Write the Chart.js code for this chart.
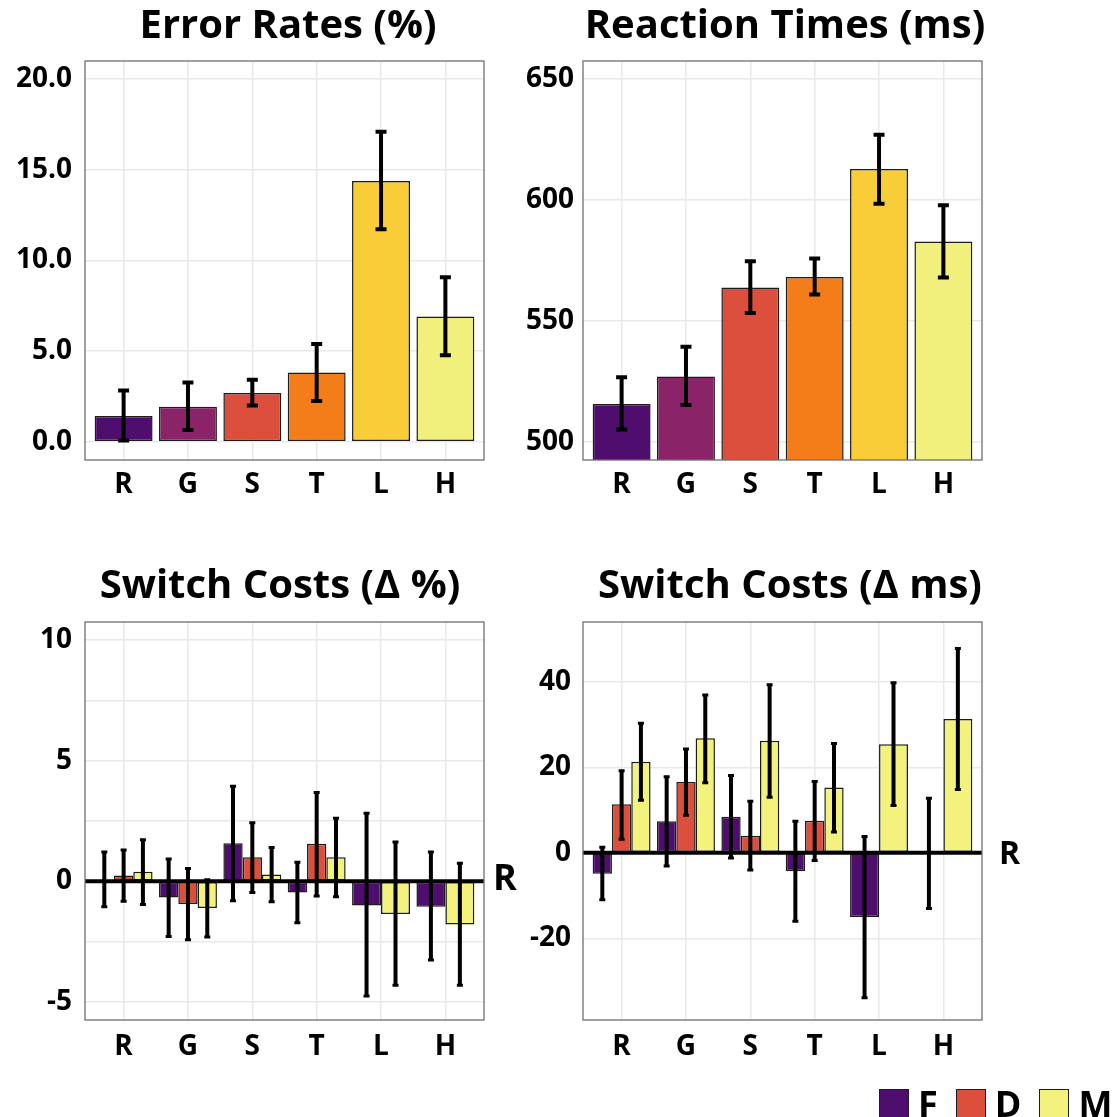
<!DOCTYPE html>
<html>
<head>
<meta charset="utf-8">
<script src="https://cdn.jsdelivr.net/npm/chart.js@4.4.1/dist/chart.umd.min.js"></script>
<style>
  html, body { margin: 0; padding: 0; background: #fff; }
  body { width: 1113px; height: 1117px; position: relative; overflow: hidden; font-family: 'Open Sans', sans-serif; }
  canvas { position: absolute; }
  #legend { position: absolute; left: 879px; top: 1086px; display: flex; align-items: center; }
  #legend .item { display: flex; align-items: center; margin-right: 18px; }
  #legend .swatch { width: 30px; height: 30px; box-sizing: border-box; border: 1.5px solid #1c1c1c; }
  #legend .name { margin-left: 9px; font-weight: 700; font-size: 36px; line-height: 1; color: #000; }
</style>
</head>
<body>
<canvas id="errorRates" width="576" height="510" style="left:0px;top:0px"></canvas>
<canvas id="reactionTimes" width="570" height="510" style="left:500px;top:0px"></canvas>
<canvas id="switchPct" width="560" height="530" style="left:0px;top:550px"></canvas>
<canvas id="switchMs" width="580" height="530" style="left:500px;top:550px"></canvas>
<div id="legend"></div>
<script>
// ---- categories and groups ----
const categories = ['R', 'G', 'S', 'T', 'L', 'H'];
const categoryColors = ['#4f0d6e', '#8b2369', '#dd4f3d', '#f37e19', '#f8cd38', '#f1f07c'];
const seriesNames = ['F', 'D', 'M'];
const seriesColors = ['#4f0d6e', '#dd4f3d', '#f2f27c'];

// ---- error rates (%) ----
const errorRate   = [1.43, 1.93, 2.70, 3.82, 14.38, 6.91];
const errorRateLo = [0.07, 0.66, 2.00, 2.26, 11.72, 4.78];
const errorRateHi = [2.83, 3.27, 3.43, 5.40, 17.10, 9.07];
const errorRateTicks = [0, 5, 10, 15, 20];

// ---- reaction times (ms) ----
const reactionTime   = [515.7, 527.0, 563.8, 568.2, 612.8, 582.9];
const reactionTimeLo = [505.1, 515.2, 553.3, 560.9, 598.5, 568.0];
const reactionTimeHi = [526.7, 539.3, 574.7, 575.8, 627.0, 597.8];
const reactionTimeTicks = [500, 550, 600, 650];

// ---- switch costs (delta %) ----
const switchPctF   = [0.05, -0.67, 1.58, -0.46, -1.00, -1.06];
const switchPctFLo = [-1.06, -2.29, -0.81, -1.72, -4.76, -3.26];
const switchPctFHi = [1.22, 0.92, 3.94, 0.79, 2.82, 1.21];
const switchPctD   = [0.24, -0.94, 1.00, 1.56, null, null];
const switchPctDLo = [-0.83, -2.42, -0.46, -0.61, null, null];
const switchPctDHi = [1.30, 0.53, 2.43, 3.68, null, null];
const switchPctM   = [0.40, -1.11, 0.28, 1.00, -1.36, -1.79];
const switchPctMLo = [-0.96, -2.31, -0.85, -0.64, -4.31, -4.31];
const switchPctMHi = [1.72, 0.06, 1.40, 2.61, 1.63, 0.75];
const switchPctGrid = [-5, -2.5, 0, 2.5, 5, 7.5, 10];
const switchPctLabels = [-5, 0, 5, 10];

// ---- switch costs (delta ms) ----
const switchMsF   = [-4.9, 7.4, 8.45, -4.3, -15.0, -0.1];
const switchMsFLo = [-11.0, -3.1, -1.2, -16.0, -33.9, -13.0];
const switchMsFHi = [1.3, 17.8, 18.1, 7.4, 3.8, 12.8];
const switchMsD   = [11.35, 16.6, 4.0, 7.5, null, null];
const switchMsDLo = [3.2, 8.8, -4.0, -1.8, null, null];
const switchMsDHi = [19.2, 24.3, 12.05, 16.7, null, null];
const switchMsM   = [21.3, 26.8, 26.2, 15.3, 25.4, 31.3];
const switchMsMLo = [12.3, 16.4, 13.0, 4.9, 11.1, 14.8];
const switchMsMHi = [30.3, 36.9, 39.3, 25.6, 39.8, 47.8];
const switchMsTicks = [-20, 0, 20, 40];

// ---- shared styling ----
const FONT = "'Open Sans', sans-serif";
Chart.defaults.font.family = FONT;
Chart.defaults.color = '#000';
const GRID_COLOR = '#e9e9e9';
const tickFont = { family: FONT, weight: 'bold', size: 28, lineHeight: 1.2 };
const titleFont = { family: FONT, weight: 'bold', size: 40, lineHeight: 1.2 };

// whiskers drawn through the value scale at each bar's centre
const errorBarPlugin = {
  id: 'errorBars',
  afterDatasetsDraw(chart, args, opts) {
    const { ctx, chartArea: a } = chart;
    const y = chart.scales.y;
    ctx.save();
    ctx.beginPath();
    ctx.rect(a.left, a.top, a.width, a.height);
    ctx.clip();
    ctx.strokeStyle = '#000';
    ctx.lineCap = 'butt';
    chart.data.datasets.forEach((ds, i) => {
      const meta = chart.getDatasetMeta(i);
      meta.data.forEach((bar, j) => {
        const lo = ds.errLo[j], hi = ds.errHi[j];
        if (lo == null || hi == null) return;
        const yl = y.getPixelForValue(lo), yh = y.getPixelForValue(hi);
        ctx.lineWidth = opts.lineWidth;
        ctx.beginPath();
        ctx.moveTo(bar.x, yl);
        ctx.lineTo(bar.x, yh);
        ctx.stroke();
        ctx.lineWidth = opts.capThickness;
        ctx.beginPath();
        ctx.moveTo(bar.x - opts.capWidth / 2, yl);
        ctx.lineTo(bar.x + opts.capWidth / 2, yl);
        ctx.moveTo(bar.x - opts.capWidth / 2, yh);
        ctx.lineTo(bar.x + opts.capWidth / 2, yh);
        ctx.stroke();
      });
    });
    ctx.restore();
  }
};

// reference line at zero with its tag on the right
const zeroLinePlugin = {
  id: 'zeroLine',
  afterDatasetsDraw(chart, args, opts) {
    const { ctx, chartArea: a } = chart;
    const y0 = chart.scales.y.getPixelForValue(0);
    ctx.save();
    ctx.strokeStyle = '#000';
    ctx.lineWidth = 4;
    ctx.beginPath();
    ctx.moveTo(a.left, y0);
    ctx.lineTo(a.right, y0);
    ctx.stroke();
    ctx.fillStyle = '#000';
    ctx.font = `bold ${opts.size}px ${FONT}`;
    ctx.textAlign = 'left';
    ctx.textBaseline = 'middle';
    ctx.fillText(opts.text, a.right + opts.gap, y0 + opts.shift);
    ctx.restore();
  }
};

// panel outline
const framePlugin = {
  id: 'frame',
  afterDraw(chart) {
    const { ctx, chartArea: a } = chart;
    ctx.save();
    ctx.strokeStyle = '#6f6f6f';
    ctx.lineWidth = 1.3;
    ctx.strokeRect(a.left, a.top, a.width, a.height);
    ctx.restore();
  }
};

function makePanel(id, cfg) {
  const plugins = [errorBarPlugin, framePlugin];
  if (cfg.zero) plugins.push(zeroLinePlugin);
  return new Chart(document.getElementById(id), {
    type: 'bar',
    data: { datasets: cfg.datasets },
    options: {
      responsive: false,
      animation: false,
      devicePixelRatio: 1,
      layout: { padding: 0 },
      datasets: {
        bar: {
          barPercentage: cfg.barPct,
          categoryPercentage: cfg.catPct,
          borderColor: '#1c1c1c',
          borderWidth: 1.5,
          borderSkipped: false,
          skipNull: true
        }
      },
      scales: {
        x: {
          type: 'linear',
          offset: false,
          min: 0.4,
          max: categories.length + 0.6,
          afterBuildTicks: s => { s.ticks = categories.map((c, i) => ({ value: i + 1 })); },
          afterFit: s => { s.height = cfg.xAxisHeight; },
          ticks: {
            callback: v => categories[Math.round(v) - 1],
            font: tickFont,
            color: '#000',
            padding: cfg.xPad,
            autoSkip: false,
            maxRotation: 0
          },
          grid: { color: GRID_COLOR, lineWidth: 1.5, drawTicks: false, offset: false },
          border: { display: false }
        },
        y: {
          type: 'linear',
          min: cfg.yMin,
          max: cfg.yMax,
          afterBuildTicks: s => { s.ticks = cfg.yGrid.map(v => ({ value: v })); },
          afterFit: s => { s.width = cfg.yAxisWidth; },
          ticks: {
            callback: cfg.yLabel,
            font: tickFont,
            color: '#000',
            padding: cfg.yPad
          },
          grid: { color: GRID_COLOR, lineWidth: 1.5, drawTicks: false },
          border: { display: false }
        },
        spacer: {
          type: 'linear',
          position: 'right',
          afterFit: s => { s.width = cfg.rightSpace; },
          ticks: { display: false },
          grid: { display: false },
          border: { display: false }
        }
      },
      plugins: {
        title: {
          display: true,
          text: cfg.title,
          font: titleFont,
          color: '#000',
          padding: cfg.titlePad
        },
        legend: { display: false },
        tooltip: { enabled: false },
        errorBars: cfg.err,
        zeroLine: cfg.zero || {}
      }
    },
    plugins
  });
}

const points = vals => categories.map((c, i) => ({ x: i + 1, y: vals[i] }));

// Error rates
makePanel('errorRates', {
  title: 'Error Rates (%)',
  datasets: [{ data: points(errorRate), backgroundColor: categoryColors, errLo: errorRateLo, errHi: errorRateHi }],
  barPct: 0.9, catPct: 1.0,
  yMin: -1, yMax: 21, yGrid: errorRateTicks, yLabel: v => v.toFixed(1),
  yAxisWidth: 85, yPad: 13, rightSpace: 92, xAxisHeight: 50, xPad: 8,
  titlePad: { top: 3, bottom: 10 },
  err: { lineWidth: 4, capThickness: 4, capWidth: 11 }
});

// Reaction times
makePanel('reactionTimes', {
  title: 'Reaction Times (ms)',
  datasets: [{ data: points(reactionTime), backgroundColor: categoryColors, errLo: reactionTimeLo, errHi: reactionTimeHi }],
  barPct: 0.9, catPct: 1.0,
  yMin: 492.5, yMax: 657.5, yGrid: reactionTimeTicks, yLabel: v => String(v),
  yAxisWidth: 83, yPad: 9, rightSpace: 88, xAxisHeight: 50, xPad: 8,
  titlePad: { top: 3, bottom: 10 },
  err: { lineWidth: 4, capThickness: 4, capWidth: 11 }
});

// Switch costs (delta %)
const pctSeries = [
  [switchPctF, switchPctFLo, switchPctFHi],
  [switchPctD, switchPctDLo, switchPctDHi],
  [switchPctM, switchPctMLo, switchPctMHi]
];
makePanel('switchPct', {
  title: 'Switch Costs (\u0394 %)',
  datasets: pctSeries.map((s, k) => ({ label: seriesNames[k], data: points(s[0]), backgroundColor: seriesColors[k], errLo: s[1], errHi: s[2] })),
  barPct: 1.0, catPct: 0.9,
  yMin: -5.75, yMax: 10.75, yGrid: switchPctGrid,
  yLabel: v => (switchPctLabels.includes(v) ? String(v) : ''),
  yAxisWidth: 85, yPad: 13, rightSpace: 76, xAxisHeight: 60, xPad: 10,
  titlePad: { top: 13, bottom: 11 },
  err: { lineWidth: 4, capThickness: 3, capWidth: 6 },
  zero: { text: 'R', size: 36, gap: 9, shift: -2 }
});

// Switch costs (delta ms)
const msSeries = [
  [switchMsF, switchMsFLo, switchMsFHi],
  [switchMsD, switchMsDLo, switchMsDHi],
  [switchMsM, switchMsMLo, switchMsMHi]
];
makePanel('switchMs', {
  title: 'Switch Costs (\u0394 ms)',
  datasets: msSeries.map((s, k) => ({ label: seriesNames[k], data: points(s[0]), backgroundColor: seriesColors[k], errLo: s[1], errHi: s[2] })),
  barPct: 1.0, catPct: 0.9,
  yMin: -39.1, yMax: 54, yGrid: switchMsTicks, yLabel: v => String(v),
  yAxisWidth: 83, yPad: 12, rightSpace: 98, xAxisHeight: 60, xPad: 10,
  titlePad: { top: 13, bottom: 11 },
  err: { lineWidth: 4, capThickness: 3, capWidth: 6 },
  zero: { text: 'R', size: 32, gap: 17, shift: 2 }
});

// legend for the grouped panels
const legend = document.getElementById('legend');
seriesNames.forEach((name, k) => {
  const item = document.createElement('div');
  item.className = 'item';
  const sw = document.createElement('div');
  sw.className = 'swatch';
  sw.style.background = seriesColors[k];
  const label = document.createElement('span');
  label.className = 'name';
  label.textContent = name;
  item.appendChild(sw);
  item.appendChild(label);
  legend.appendChild(item);
});
</script>
</body>
</html>
